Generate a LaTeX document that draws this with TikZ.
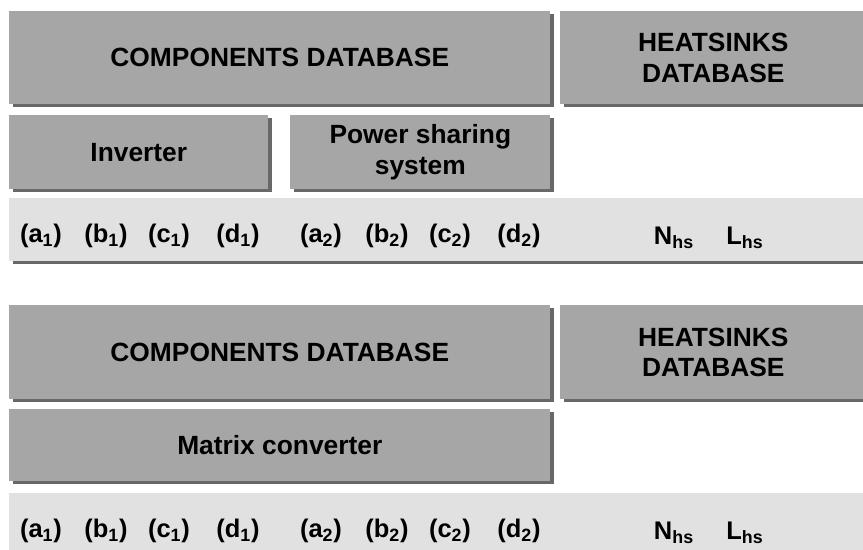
\documentclass[tikz,border=0pt]{standalone}
\usepackage{fontspec}
\setmainfont{Liberation Sans}
\usetikzlibrary{shadows}
\definecolor{boxgray}{RGB}{166,166,166}
\definecolor{bargray}{RGB}{225,225,225}
\definecolor{shadegray}{RGB}{104,104,104}

\begin{document}
\begin{tikzpicture}[x=0.02cm, y=-0.02cm,
    font=\fontsize{14.5}{17}\selectfont\bfseries,
    ombre/.style={drop shadow={shadow xshift=0.08cm, shadow yshift=-0.06cm, fill=shadegray, opacity=1}},
    bloc/.style={fill=boxgray, anchor=north west, inner sep=0pt, align=center, ombre,
        font=\fontsize{15}{17.5}\selectfont\bfseries},
    barre/.style={fill=bargray, anchor=north west, inner sep=0pt, minimum width=17.4cm, ombre},
    param/.style={inner sep=0pt}]

\useasboundingbox[fill=white] (0,0) rectangle (863,549);

%bases de données (haut)

\node[bloc, minimum width=10.82cm, minimum height=1.86cm] (compA) at (9,11) {COMPONENTS DATABASE};
\node[bloc, minimum width=6.12cm, minimum height=1.86cm] (heatA) at (560,11) {HEATSINKS\\DATABASE};
\node[bloc, minimum width=5.18cm, minimum height=1.48cm] (inv) at (9,115) {Inverter};
\node[bloc, minimum width=5.2cm, minimum height=1.48cm] (pss) at (290,115) {Power sharing\\system};

%paramètres (haut)

\node[barre, minimum height=1.26cm] (barA) at (9,198) {};
\node[param] (aA) at (41,236) {(a\textsubscript{1})};
\node[param] (bA) at (106,236) {(b\textsubscript{1})};
\node[param] (cA) at (169,236) {(c\textsubscript{1})};
\node[param] (dA) at (238,236) {(d\textsubscript{1})};
\node[param] (eA) at (321,236) {(a\textsubscript{2})};
\node[param] (fA) at (387,236) {(b\textsubscript{2})};
\node[param] (gA) at (450,236) {(c\textsubscript{2})};
\node[param] (hA) at (519,236) {(d\textsubscript{2})};
\node[param] (nA) at (674,238) {N\textsubscript{hs}};
\node[param] (lA) at (745,238) {L\textsubscript{hs}};

%bases de données (bas)

\node[bloc, minimum width=10.82cm, minimum height=1.88cm] (compB) at (9,305) {COMPONENTS DATABASE};
\node[bloc, minimum width=6.12cm, minimum height=1.88cm] (heatB) at (560,305) {HEATSINKS\\DATABASE};
\node[bloc, minimum width=10.82cm, minimum height=1.44cm] (mat) at (9,409) {Matrix converter};

%paramètres (bas)

\node[barre, minimum height=1.4cm] (barB) at (9,493) {};
\node[param] (aB) at (41,531) {(a\textsubscript{1})};
\node[param] (bB) at (106,531) {(b\textsubscript{1})};
\node[param] (cB) at (169,531) {(c\textsubscript{1})};
\node[param] (dB) at (238,531) {(d\textsubscript{1})};
\node[param] (eB) at (321,531) {(a\textsubscript{2})};
\node[param] (fB) at (387,531) {(b\textsubscript{2})};
\node[param] (gB) at (450,531) {(c\textsubscript{2})};
\node[param] (hB) at (519,531) {(d\textsubscript{2})};
\node[param] (nB) at (674,533) {N\textsubscript{hs}};
\node[param] (lB) at (745,533) {L\textsubscript{hs}};
\end{tikzpicture}
\end{document}
